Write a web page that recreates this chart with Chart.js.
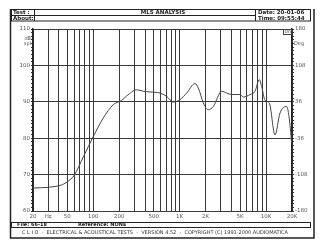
<!DOCTYPE html>
<html>
<head>
<meta charset="utf-8">
<script src="https://cdn.jsdelivr.net/npm/chart.js@4"></script>
<style>
html,body{margin:0;padding:0;background:#fff;}
canvas{display:block;}
</style>
</head>
<body>
<canvas id="c" width="325" height="250"></canvas>
<script>
// ---- data ----
const freqs = [20,25,30,35,41,47,55,60,77,100,130,170,213,243,318,379,453,592,707,843,1008,1205,1504,1643,1878,2146,2451,3068,3506,4005,4998,5458,6524,7454,8358,8912,9732,10915,12706,14520,17360,18450,19840];
const splValues = [66.3,66.4,66.5,66.7,67.0,67.6,68.8,69.8,75.0,80.5,85.5,89.2,90.4,91.6,93.3,92.9,92.7,92.4,91.5,89.9,90.6,92.4,95.0,93.8,89.7,87.8,88.7,92.9,92.4,92.0,92.0,91.3,92.0,92.9,96.1,94.2,90.4,89.7,80.9,86.9,88.7,86.0,78.7];
const xGridValues = [20,30,40,50,60,70,80,90,100,200,300,400,500,600,700,800,900,1000,2000,3000,4000,5000,6000,7000,8000,9000,10000,20000];
const xTickLabels = {20:'20',30:'Hz',50:'50',100:'100',200:'200',500:'500',1000:'1K',2000:'2K',5000:'5K',10000:'10K',20000:'20K'};
const splTickLabels = [60,70,80,90,100,110];
const phaseTickLabels = [-180,-108,-36,36,108,180];

const FONT = 'DejaVu Sans';
const GRID = '#3a3a3a';
const TXT = '#555';

const decor = {
  id:'decor',
  afterDraw(chart){
    const c = chart.ctx;
    c.save();
    c.strokeStyle = '#222';
    c.fillStyle = '#222';
    // outer frame
    c.lineWidth = 1.5;
    c.beginPath();
    c.moveTo(10.5,9); c.lineTo(10.5,238); c.lineTo(314,238); c.lineTo(314,9);
    c.stroke();
    // header box
    c.lineWidth = 1;
    c.strokeRect(11.5,9.5,299,11.5);
    c.beginPath();
    c.moveTo(11.5,15.5); c.lineTo(255.5,15.5);
    c.moveTo(34.5,9.5); c.lineTo(34.5,21);
    c.moveTo(255.5,9.5); c.lineTo(255.5,21);
    c.stroke();
    c.textBaseline = 'middle';
    c.font = 'bold 5.5px "' + FONT + '"';
    c.textAlign = 'left';
    c.fillText('Test :',13,12.6);
    c.fillText('About:',13,18.3);
    c.fillText('Date: 20-01-06',258,12.6);
    c.fillText('Time: 09:55:44',258,18.3);
    c.textAlign = 'center';
    c.fillText('MLS ANALYSIS',163,12.6);
    // file box
    c.strokeRect(11.5,222.5,299,5);
    c.textAlign = 'left';
    c.font = 'bold 5px "' + FONT + '"';
    c.fillText('File: 66-18',17,225.2);
    c.fillText('Reference: NONE',78,225.2);
    // footer
    c.font = '5px "' + FONT + '"';
    c.fillStyle = '#333';
    c.fillText('C L I O  -  ELECTRICAL & ACOUSTICAL TESTS  -  VERSION 4.52  -  COPYRIGHT (C) 1991-2000 AUDIOMATICA',22,232.8,286);
    // axis units
    c.fillStyle = TXT;
    c.font = '5px "' + FONT + '"';
    c.textAlign = 'right';
    c.fillText('dB',31,38.3);
    c.fillText('spl',31,44);
    c.textAlign = 'left';
    c.fillText('Deg',294,44);
    // small box
    c.strokeStyle = '#444';
    c.strokeRect(283.5,29.5,8,5);
    c.fillStyle = '#444';
    c.font = '4.5px "' + FONT + '"';
    c.fillText('Dn',284.5,32.2);
    c.restore();
  }
};

const yMinor = [];
for (let v = 60; v <= 110; v++) yMinor.push(v);
const phaseMinor = [];
for (let i = 0; i <= 50; i++) phaseMinor.push(-180 + i*7.2);

new Chart(document.getElementById('c'), {
  type:'line',
  data:{
    datasets:[{
      data: freqs.map((f,i)=>({x:f, y:splValues[i]})),
      borderColor:'#444',
      borderWidth:1,
      pointRadius:0,
      cubicInterpolationMode:'monotone',
      fill:false,
      yAxisID:'y'
    }]
  },
  options:{
    responsive:false,
    animation:false,
    events:[],
    layout:{padding:{top:29,left:0,right:0,bottom:0}},
    plugins:{legend:{display:false},tooltip:{enabled:false}},
    scales:{
      x:{
        type:'logarithmic', min:20, max:20000,
        afterBuildTicks(s){ s.ticks = xGridValues.map(v=>({value:v})); },
        afterFit(s){ s.height = 39; },
        grid:{color:GRID, lineWidth:1, drawTicks:false},
        border:{color:GRID},
        ticks:{
          autoSkip:false, maxRotation:0, padding:2,
          color:TXT, font:{family:FONT,size:5.5},
          callback(v){ return xTickLabels[v] || ''; }
        }
      },
      y:{
        position:'left', min:60, max:110,
        afterBuildTicks(s){ s.ticks = yMinor.map(v=>({value:v})); },
        afterFit(s){ s.width = 33; },
        grid:{
          color(ctx){ return (ctx.tick && ctx.tick.value % 10 === 0) ? GRID : 'rgba(0,0,0,0)'; },
          tickColor:'#333', tickLength:2, lineWidth:1
        },
        border:{color:'#222', width:1.5},
        ticks:{
          autoSkip:false, padding:1, color:TXT, font:{family:FONT,size:5.5},
          callback(v){ return splTickLabels.includes(v) ? String(v) : ''; }
        }
      },
      y2:{
        position:'right', min:-180, max:180,
        afterBuildTicks(s){ s.ticks = phaseMinor.map(v=>({value:v})); },
        afterFit(s){ s.width = 33; },
        grid:{drawOnChartArea:false, tickColor:'#333', tickLength:2},
        border:{color:'#222', width:1.5},
        ticks:{
          autoSkip:false, padding:1, color:TXT, font:{family:FONT,size:5.5},
          callback(v){
            const r = Math.round(v);
            return (Math.abs(v - r) < 0.01 && phaseTickLabels.includes(r)) ? String(r) : '';
          }
        }
      }
    }
  },
  plugins:[decor]
});
</script>
</body>
</html>
